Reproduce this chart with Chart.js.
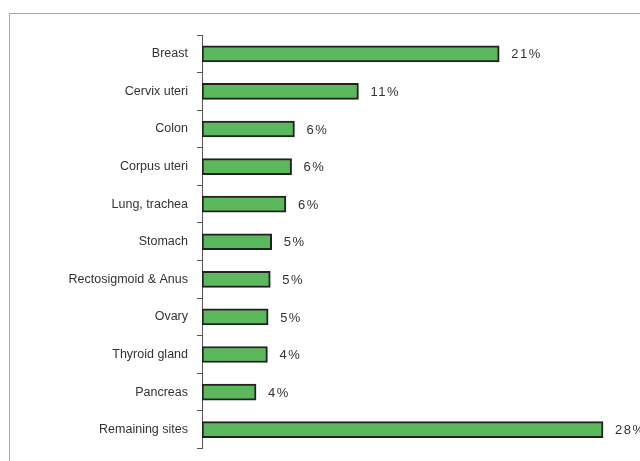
<!DOCTYPE html>
<html>
<head>
<meta charset="utf-8">
<script src="https://cdn.jsdelivr.net/npm/chart.js@4.4.0/dist/chart.umd.min.js"></script>
<style>
  html, body { margin: 0; padding: 0; background: #fff; }
  body { width: 640px; height: 461px; position: relative; overflow: hidden; }
  #frame { position: absolute; left: 9px; top: 13px; width: 640px; height: 460px;
           border-top: 1px solid #a8a8a8; border-left: 1px solid #a8a8a8; }
  #sitesChart { position: absolute; left: 10px; top: 14px; }
</style>
</head>
<body>
<div id="frame"></div>
<canvas id="sitesChart" width="630" height="451"></canvas>
<script>
const sites = ['Breast', 'Cervix uteri', 'Colon', 'Corpus uteri', 'Lung, trachea', 'Stomach',
    'Rectosigmoid & Anus', 'Ovary', 'Thyroid gland', 'Pancreas', 'Remaining sites']
const shares = [20.9, 11.0, 6.5, 6.3, 5.9, 4.9, 4.8, 4.65, 4.6, 3.8, 28.2]
const shareLabels = ['21%', '11%', '6%', '6%', '6%', '5%', '5%', '5%', '4%', '4%', '28%']

const ctx = document.getElementById('sitesChart')

// write the percentage just right of every bar
const valueText = {
    id: 'valueText',
    afterDatasetsDraw(chart) {
        const c = chart.ctx
        const bars = chart.getDatasetMeta(0).data
        c.save()
        c.font = '13px "Liberation Sans", Arial, sans-serif'
        c.letterSpacing = '1.5px'
        c.fillStyle = '#333'
        c.textBaseline = 'middle'
        bars.forEach(function (bar, i) {
            c.fillText(shareLabels[i], bar.x + 12, bar.y + 1)
        })
        c.restore()
    }
}

new Chart(ctx, {
    type: 'bar',
    data: {
        labels: sites,
        datasets: [{
            data: shares,
            backgroundColor: 'rgb(92, 184, 92)',
            borderColor: '#222',
            borderWidth: 2,
            borderSkipped: false,
            barThickness: 16
        }]
    },
    options: {
        indexAxis: 'y',
        responsive: false,
        animation: false,
        layout: { padding: { top: 21, bottom: 12, right: 0 } },
        plugins: {
            legend: { display: false },
            tooltip: { enabled: false }
        },
        scales: {
            x: {
                display: false,
                min: 0,
                max: 30.8
            },
            y: {
                offset: true,
                afterFit: function (scale) { scale.width = 192 },
                grid: {
                    offset: true,
                    drawOnChartArea: false,
                    drawTicks: true,
                    tickLength: 5,
                    color: '#555'
                },
                border: { display: true, color: '#555', width: 1 },
                ticks: {
                    color: '#333',
                    padding: 9,
                    font: { family: '"Liberation Sans", Arial, sans-serif', size: 12.5 }
                }
            }
        }
    },
    plugins: [valueText]
})
</script>
</body>
</html>
